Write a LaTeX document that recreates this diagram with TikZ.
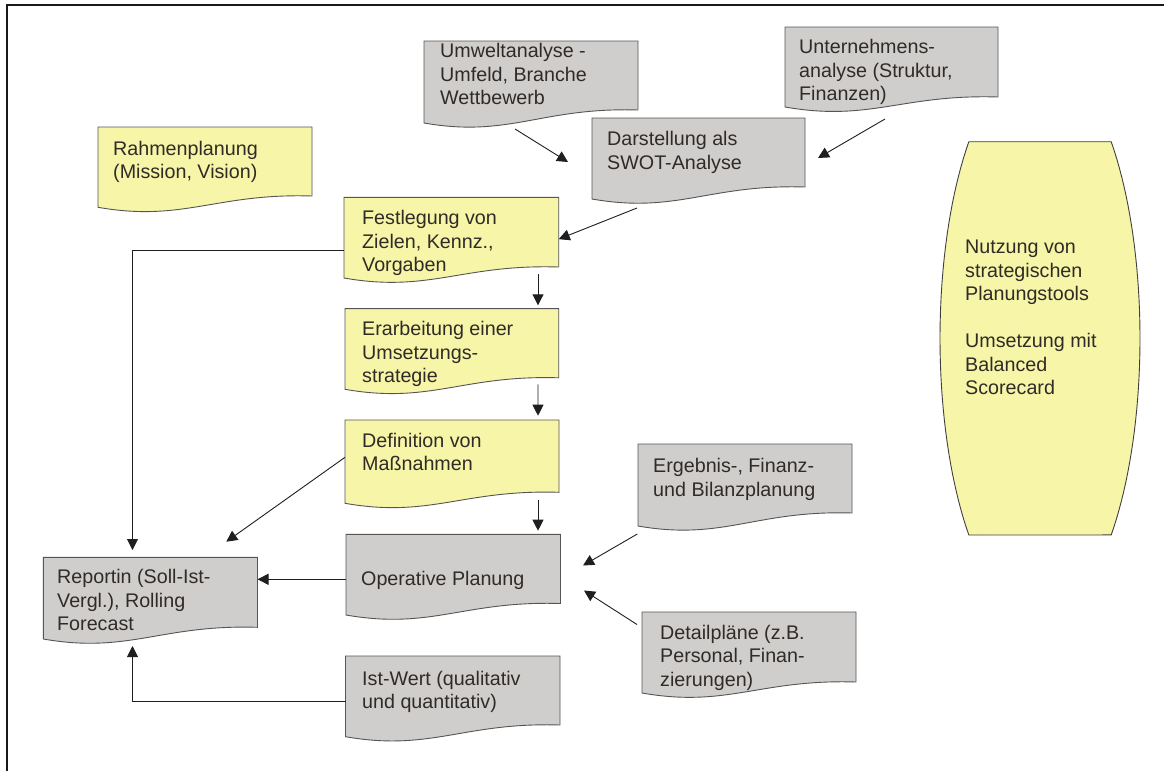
\documentclass[tikz,border=0pt]{standalone}
\usepackage{fontspec}
\setmainfont{Liberation Sans}
\usetikzlibrary{arrows.meta,calc}
\definecolor{docyellow}{RGB}{247,245,168}
\definecolor{docgray}{RGB}{208,206,204}
\definecolor{docline}{RGB}{85,85,85}
\definecolor{txtcol}{RGB}{48,43,38}
\tikzset{
  docshape/.style={draw=docline, line width=0.9pt},
  yellowdoc/.style={docshape, fill=docyellow},
  graydoc/.style={docshape, fill=docgray},
  boxanchor/.style={inner sep=0pt, outer sep=0pt, draw=none, fill=none},
  txt/.style={font=\fontsize{19.7}{23.5}\selectfont, text=txtcol, align=left, inner sep=0pt, anchor=north west},
  conn/.style={draw=black!88, line width=0.9pt, -{Triangle[length=11pt,width=11pt]}},
  frameline/.style={draw=black!90, line width=2pt},
}
\newcommand\docbox[7]{%
  \pgfmathsetmacro\dbw{#5-#3}%
  \pgfmathsetmacro\dbh{#7-#4}%
  \path[#2] (#3,#4) -- (#5,#4) -- (#5,#7)
    .. controls ({#3+0.55*\dbw},{#7-3}) and ({#3+0.4*\dbw},{#6+15}) .. (#3,#6) -- cycle;
  \node[boxanchor, anchor=north west, minimum width=\dbw pt, minimum height=\dbh pt] (#1) at (#3,#4) {};
}
\begin{document}
\begin{tikzpicture}[x=1pt, y=-1pt]
\useasboundingbox[fill=white] (0,0) rectangle (1164,771);
% frame
\draw[frameline] (6.5,771) -- (6.5,5) -- (1164,5);

% document boxes: name, style, left, top, right, bottom-left y, bottom-right y
\docbox{rahmen}{yellowdoc}{98}{127}{312}{207.3}{196}
\docbox{umwelt}{graydoc}{424}{41}{638}{123}{110}
\docbox{untern}{graydoc}{785}{27}{998}{107}{97}
\docbox{swot}{graydoc}{592}{118}{805}{199}{187}
\docbox{fest}{yellowdoc}{344}{197.3}{558.7}{278}{267}
\docbox{erarb}{yellowdoc}{345}{308.6}{558.7}{389.3}{377.8}
\docbox{defin}{yellowdoc}{345}{420}{559}{503.3}{492.3}
\docbox{oper}{graydoc}{346}{534.3}{560.5}{615}{603.5}
\docbox{report}{graydoc}{43.3}{557.3}{257.5}{639}{627.3}
\docbox{ist}{graydoc}{345.5}{656}{560}{736.7}{725}
\docbox{ergeb}{graydoc}{638}{444}{852}{526}{513}
\docbox{detail}{graydoc}{642}{612}{856}{693}{682}

% bulging shape on the right
\path[draw=black!75, line width=0.9pt, fill=docyellow]
  (968.8,141.7) -- (1111.2,141.7)
  -- plot[domain=-44.6:44.6, samples=40] ({1040+100*cos(\x)},{338.35+280*sin(\x)})
  -- (968.8,535)
  -- plot[domain=135.4:224.6, samples=40] ({1040+100*cos(\x)},{338.35+280*sin(\x)})
  -- cycle;

% texts
\node[txt] (rahmen-t) at (113,140) {\rule{0pt}{15pt}Rahmenplanung\\(Mission, Vision)};
\node[txt] (umwelt-t) at (440,42.3) {\rule{0pt}{15pt}Umweltanalyse -\\Umfeld, Branche\\Wettbewerb};
\node[txt] (untern-t) at (799,38.3) {\rule{0pt}{15pt}Unternehmens-\\analyse (Struktur,\\Finanzen)};
\node[txt] (swot-t) at (607,130.7) {\rule{0pt}{15pt}Darstellung als\\SWOT-Analyse};
\node[txt] (fest-t) at (362,209.3) {\rule{0pt}{15pt}Festlegung von\\Zielen, Kennz.,\\Vorgaben};
\node[txt] (erarb-t) at (362,320.5) {\rule{0pt}{15pt}Erarbeitung einer\\Umsetzungs-\\strategie};
\node[txt] (defin-t) at (362,432) {\rule{0pt}{15pt}Definition von\\Maßnahmen};
\node[txt] (oper-t) at (361,570) {\rule{0pt}{15pt}Operative Planung};
\node[txt] (report-t) at (57,568.3) {\rule{0pt}{15pt}Reportin (Soll-Ist-\\Vergl.), Rolling\\Forecast};
\node[txt] (ist-t) at (362,670) {\rule{0pt}{15pt}Ist-Wert (qualitativ\\und quantitativ)};
\node[txt] (ergeb-t) at (653,457.3) {\rule{0pt}{15pt}Ergebnis-, Finanz-\\und Bilanzplanung};
\node[txt] (detail-t) at (660,624) {\rule{0pt}{15pt}Detailpläne (z.B.\\Personal, Finan-\\zierungen)};
\node[txt] (nutz-t) at (965,238.3) {\rule{0pt}{15pt}Nutzung von\\strategischen\\Planungstools\\[23.5pt]Umsetzung mit\\Balanced\\Scorecard};

% connectors
\draw[conn] ($(umwelt.south west)+(91,19)$) -- ($(swot.west)+(-24,9.5)$);
\draw[conn] ($(untern.south west)+(100,22)$) -- ($(swot.east)+(13,5.5)$);
\draw[conn] ($(swot.south west)+(45,21)$) -- ($(fest.east)+(0,7)$);
\draw[conn] ($(fest.south east)+(-20.7,7)$) -- ($(erarb.north east)+(-20.7,-3.3)$);
\draw[conn] ($(erarb.south east)+(-20.7,6.6)$) -- ($(defin.north east)+(-21,-4.3)$);
\draw[conn] ($(defin.south east)+(-21,7.7)$) -- ($(oper.north east)+(-22.5,-3.6)$);
\draw[conn] ($(oper.north west)+(0,45)$) -- ($(report.north east)+(0,22)$);
\draw[conn] ($(fest.north west)+(0,53)$) -| ($(report.north west)+(89.2,-7.3)$);
\draw[conn] ($(defin.north west)+(0,37.3)$) -- ($(report.north east)+(-31.2,-15.6)$);
\draw[conn] ($(ist.north west)+(0,45.7)$) -| ($(report.south west)+(89.2,18.7)$);
\draw[conn] ($(ergeb.south west)+(-0.7,21)$) -- ($(oper.north east)+(22.5,31.2)$);
\draw[conn] ($(detail.north west)+(-5,12.5)$) -- ($(oper.north east)+(23.5,56.2)$);
\end{tikzpicture}
\end{document}
